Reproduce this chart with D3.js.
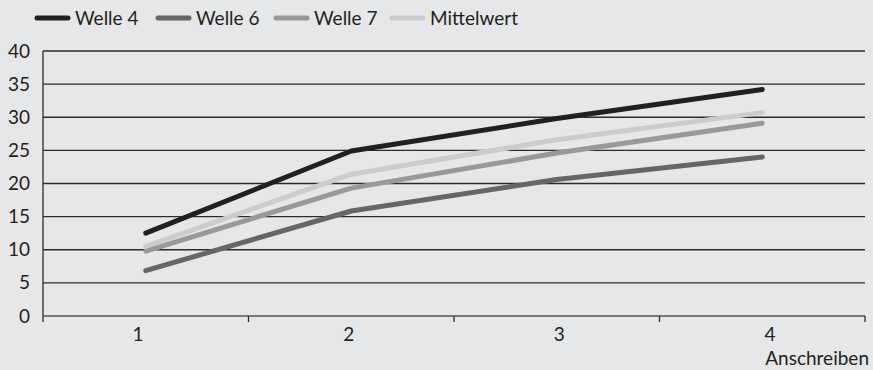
<!DOCTYPE html>
<html><head><meta charset="utf-8">
<script src="https://cdn.jsdelivr.net/npm/d3@7"></script>
<style>
html,body{margin:0;padding:0;background:#e6e7e8;}
svg{display:block;}
text{font-family:Lato,sans-serif;fill:#231f20;}
</style></head>
<body>
<svg id="chart" width="873" height="370"></svg>
<script>
const categories = ["1","2","3","4"];
const seriesNames = ["Welle 4","Welle 6","Welle 7","Mittelwert"];
const welle4 = [12.5, 24.9, 29.8, 34.2];
const welle6 = [6.85, 15.85, 20.6, 24.0];
const welle7 = [9.8, 19.3, 24.6, 29.1];
const mittelwert = [10.5, 21.4, 26.6, 30.7];
const yTicks = [0,5,10,15,20,25,30,35,40];
const xTitle = "Anschreiben";

const seriesValues = [welle4, welle6, welle7, mittelwert];
const colors = ["#231f20","#666667","#98999b","#cbcccd"];
const FS = 19;

const svg = d3.select("#chart");
const mLeft = 43, mRight = 865, mTop = 51, mBottom = 316;

const x = d3.scaleBand().domain(categories).range([mLeft, mRight]).paddingInner(0).paddingOuter(0);
const xLab = d3.scalePoint().domain(categories).range([138, 770]);
const y = d3.scaleLinear().domain([0,40]).range([mBottom, mTop]);

// gridlines
svg.append("g").selectAll("line").data(yTicks.filter(d=>d>0)).join("line")
  .attr("x1", mLeft).attr("x2", mRight)
  .attr("y1", d=>y(d)).attr("y2", d=>y(d))
  .attr("stroke", "#2b2b2b").attr("stroke-width", 1.3);

// y axis
const yAxis = d3.axisLeft(y).tickValues(yTicks).tickSize(0).tickPadding(13);
const yg = svg.append("g").attr("transform", `translate(${mLeft},0)`).call(yAxis);
yg.select(".domain").remove();
yg.selectAll("text").attr("font-size", FS).attr("fill", "#231f20").style("font-family", 'Lato,sans-serif');
svg.append("line").attr("x1", mLeft).attr("x2", mLeft).attr("y1", mTop).attr("y2", mBottom+6)
  .attr("stroke", "#2b2b2b").attr("stroke-width", 1.3);

// x axis
svg.append("line").attr("x1", mLeft).attr("x2", mRight).attr("y1", mBottom).attr("y2", mBottom)
  .attr("stroke", "#555").attr("stroke-width", 1.3);
svg.append("g").selectAll("line").data(categories).join("line")
  .attr("x1", d=>x(d)+x.bandwidth()).attr("x2", d=>x(d)+x.bandwidth())
  .attr("y1", mBottom).attr("y2", mBottom+6)
  .attr("stroke", "#2b2b2b").attr("stroke-width", 1.3);
svg.append("g").selectAll("text").data(categories).join("text")
  .attr("x", d=>xLab(d)).attr("y", mBottom+25)
  .attr("text-anchor","middle").attr("font-size", FS).text(d=>d);
svg.append("text").attr("x", 869).attr("y", 365).attr("text-anchor","end")
  .attr("font-size", FS).text(xTitle);

// lines
const line = d3.line().x((d,i)=>x(categories[i]) + x.bandwidth()/2).y(d=>y(d));
svg.append("g").selectAll("path").data(seriesValues).join("path")
  .attr("d", d=>line(d)).attr("fill","none")
  .attr("stroke", (d,i)=>colors[i]).attr("stroke-width", 5)
  .attr("stroke-linecap","round").attr("stroke-linejoin","round");

// legend
const legendX = [37, 158, 276, 392];
const lg = svg.append("g").selectAll("g").data(seriesNames).join("g")
  .attr("transform", (d,i)=>`translate(${legendX[i]},18)`);
lg.append("line").attr("x1",0).attr("x2",31).attr("y1",0).attr("y2",0)
  .attr("stroke",(d,i)=>colors[i]).attr("stroke-width",5).attr("stroke-linecap","round");
lg.append("text").attr("x",38).attr("y",7).attr("font-size",FS).text(d=>d);
</script>
</body></html>
